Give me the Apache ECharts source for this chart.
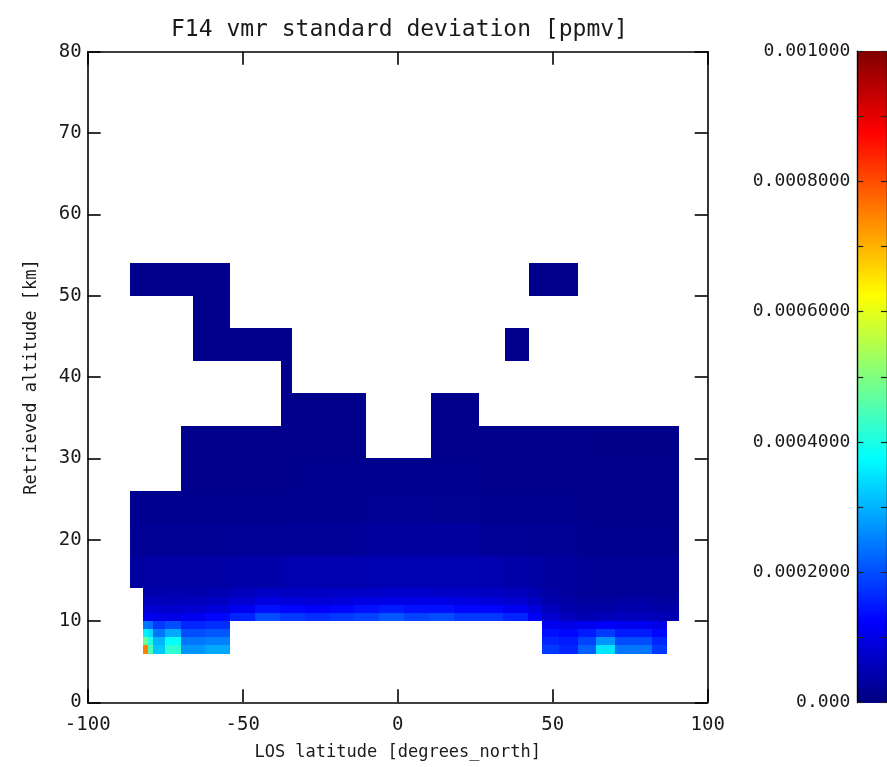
<!DOCTYPE html>
<html><head><meta charset="utf-8">
<script src="https://cdn.jsdelivr.net/npm/echarts@6.0.0/dist/echarts.min.js"></script>
<style>html,body{margin:0;padding:0;background:#fff}#c{width:887px;height:767px}</style>
</head><body><div id="c"></div>
<script>
// ---- data (values in ppmv) ----
const latEdges = [-86.2, -82.3, -70.0, -66.1, -54.0, -37.7, -34.0, -10.1, 10.6, 26.1, 34.6, 42.3, 46.7, 58.2, 86.8, 90.7];
const altEdges = [14, 18, 22, 26, 30, 34, 38, 42, 46, 50, 54];
const upperRow14 = [3.0e-5, 3.5e-5, 3.5e-5, 3.5e-5, 4.0e-5, 4.5e-5, 4.5e-5, 5.0e-5, 5.0e-5, 4.5e-5, 4.0e-5, 3.5e-5, 3.0e-5, 2.5e-5, 2.5e-5];
const upperRow18 = [2.0e-5, 2.0e-5, 2.0e-5, 2.0e-5, 2.5e-5, 2.5e-5, 2.5e-5, 3.0e-5, 3.0e-5, 2.5e-5, 2.5e-5, 2.0e-5, 2.0e-5, 1.5e-5, 1.5e-5];
const upperRow22 = [1.6e-5, 1.5e-5, 1.5e-5, 1.5e-5, 1.5e-5, 1.5e-5, 1.6e-5, 1.8e-5, 1.7e-5, 1.5e-5, 1.5e-5, 1.4e-5, 1.4e-5, 1.3e-5, 1.3e-5];
const upperRow26 = [null, null, 1.3e-5, 1.3e-5, 1.3e-5, 1.3e-5, 1.4e-5, 1.5e-5, 1.4e-5, 1.3e-5, 1.3e-5, 1.2e-5, 1.2e-5, 1.2e-5, 1.2e-5];
const upperRow30 = [null, null, 1.2e-5, 1.2e-5, 1.2e-5, 1.2e-5, 1.3e-5, null, 1.3e-5, 1.2e-5, 1.2e-5, 1.2e-5, 1.2e-5, 1.1e-5, 1.1e-5];
const upperRow34 = [null, null, null, null, null, 1.2e-5, 1.2e-5, null, 1.2e-5, null, null, null, null, null, null];
const upperRow38 = [null, null, null, null, null, 1.2e-5, null, null, null, null, null, null, null, null, null];
const upperRow42 = [null, null, null, 1.2e-5, 1.2e-5, 1.2e-5, null, null, null, null, 1.2e-5, null, null, null, null];
const upperRow46 = [null, null, null, 1.2e-5, null, null, null, null, null, null, null, null, null, null, null];
const upperRow50 = [1.2e-5, 1.2e-5, 1.2e-5, 1.2e-5, null, null, null, null, null, null, null, 1.2e-5, 1.2e-5, null, null];
const upperRows = [upperRow14, upperRow18, upperRow22, upperRow26, upperRow30, upperRow34, upperRow38, upperRow42, upperRow46, upperRow50];

const lowLatEdges = [-82.3, -80.5, -79, -75, -70, -62, -54, -46, -38, -30, -22, -14, -6, 2, 10, 18, 26, 34, 42, 46.7, 52, 58, 64, 70, 76, 82, 86.8, 90.7];
const lowAltEdges = [6, 7, 8, 9, 10, 11, 12, 13, 14];
const lowRow6  = [7.5e-4, 4.5e-4, 3.2e-4, 4.2e-4, 2.7e-4, 2.9e-4, null, null, null, null, null, null, null, null, null, null, null, null, null, 1.8e-4, 1.6e-4, 2.2e-4, 3.5e-4, 2.4e-4, 2.4e-4, 1.8e-4, null];
const lowRow7  = [4.8e-4, 4.0e-4, 3.0e-4, 3.8e-4, 2.4e-4, 2.5e-4, null, null, null, null, null, null, null, null, null, null, null, null, null, 1.6e-4, 1.5e-4, 1.9e-4, 2.7e-4, 2.0e-4, 2.0e-4, 1.6e-4, null];
const lowRow8  = [3.6e-4, 3.4e-4, 2.4e-4, 2.9e-4, 2.0e-4, 2.1e-4, null, null, null, null, null, null, null, null, null, null, null, null, null, 1.4e-4, 1.3e-4, 1.5e-4, 1.8e-4, 1.5e-4, 1.5e-4, 1.3e-4, null];
const lowRow9  = [2.4e-4, 2.3e-4, 1.8e-4, 2.0e-4, 1.6e-4, 1.7e-4, null, null, null, null, null, null, null, null, null, null, null, null, null, 1.1e-4, 1.0e-4, 1.1e-4, 1.2e-4, 1.1e-4, 1.1e-4, 1.0e-4, null];
const lowRow10 = [1.1e-4, 1.1e-4, 1.0e-4, 1.0e-4, 1.1e-4, 1.3e-4, 1.6e-4, 2.0e-4, 1.8e-4, 1.7e-4, 1.8e-4, 1.9e-4, 2.1e-4, 1.9e-4, 2.0e-4, 1.8e-4, 1.8e-4, 1.6e-4, 1.2e-4, 0.8e-4, 0.6e-4, 0.5e-4, 0.55e-4, 0.6e-4, 0.6e-4, 0.55e-4, 0.5e-4];
const lowRow11 = [0.8e-4, 0.8e-4, 0.8e-4, 0.75e-4, 0.8e-4, 0.9e-4, 1.1e-4, 1.4e-4, 1.3e-4, 1.2e-4, 1.3e-4, 1.4e-4, 1.5e-4, 1.4e-4, 1.4e-4, 1.3e-4, 1.3e-4, 1.1e-4, 0.9e-4, 0.6e-4, 0.45e-4, 0.4e-4, 0.4e-4, 0.45e-4, 0.45e-4, 0.4e-4, 0.4e-4];
const lowRow12 = [0.6e-4, 0.6e-4, 0.6e-4, 0.55e-4, 0.6e-4, 0.65e-4, 0.8e-4, 0.95e-4, 0.9e-4, 0.85e-4, 0.9e-4, 1.0e-4, 1.0e-4, 1.0e-4, 1.0e-4, 0.95e-4, 0.9e-4, 0.8e-4, 0.65e-4, 0.45e-4, 0.35e-4, 0.3e-4, 0.3e-4, 0.35e-4, 0.35e-4, 0.3e-4, 0.3e-4];
const lowRow13 = [0.45e-4, 0.45e-4, 0.45e-4, 0.45e-4, 0.45e-4, 0.5e-4, 0.6e-4, 0.7e-4, 0.65e-4, 0.65e-4, 0.7e-4, 0.7e-4, 0.75e-4, 0.75e-4, 0.7e-4, 0.7e-4, 0.65e-4, 0.6e-4, 0.5e-4, 0.35e-4, 0.3e-4, 0.25e-4, 0.25e-4, 0.25e-4, 0.25e-4, 0.25e-4, 0.25e-4];
const lowRows = [lowRow6, lowRow7, lowRow8, lowRow9, lowRow10, lowRow11, lowRow12, lowRow13];

const colorbarTicks = [0, 0.0002, 0.0004, 0.0006, 0.0008, 0.001];
const jetColors = ['#000080', '#0000ff', '#0080ff', '#00ffff', '#80ff80', '#ffff00', '#ff8000', '#ff0000', '#800000'];

// ---- build cells ----
const cells = [];
function addCells(lats, alts, rows) {
  rows.forEach((row, r) => {
    row.forEach((v, c) => {
      if (v !== null) cells.push([lats[c], lats[c + 1], alts[r], alts[r + 1], v]);
    });
  });
}
addCells(lowLatEdges, lowAltEdges, lowRows);
addCells(latEdges, altEdges, upperRows);

const FONT = 'DejaVu Sans Mono';
const TXT = '#1a1a1a';

const chart = echarts.init(document.getElementById('c'), null, {renderer: 'canvas'});

function snapRect(api) {
  const p0 = api.coord([api.value(0), api.value(2)]);
  const p1 = api.coord([api.value(1), api.value(3)]);
  const x0 = Math.round(Math.min(p0[0], p1[0])), x1 = Math.round(Math.max(p0[0], p1[0]));
  const y0 = Math.round(Math.min(p0[1], p1[1])), y1 = Math.round(Math.max(p0[1], p1[1]));
  return {x: x0, y: y0, width: x1 - x0, height: y1 - y0};
}

function renderCell(params, api) {
  return {type: 'rect', shape: snapRect(api), style: {fill: api.visual('color')}};
}

function renderBar(params, api) {
  const stops = jetColors.map((c, i) => ({offset: i / (jetColors.length - 1), color: c}));
  return {type: 'rect', shape: snapRect(api),
    style: {fill: new echarts.graphic.LinearGradient(0, 1, 0, 0, stops)}};
}

const axisLine = {show: true, onZero: false, lineStyle: {color: '#000', width: 1.6}};
const mainTick = {show: true, inside: true, length: 13, lineStyle: {color: '#000', width: 1.6}};
const cbLine = {show: true, onZero: false, lineStyle: {color: '#000', width: 1.4}};
const cbTick = {show: true, inside: true, length: 6, lineStyle: {color: '#222', width: 1.2}};
const cbMinor = {show: true, splitNumber: 2, length: 6, lineStyle: {color: '#222', width: 1.2}};

function cbLabel(v) {
  if (v === 0) return '0.000';
  if (Math.abs(v - 0.001) < 1e-12) return '0.001000';
  return v.toFixed(7);
}

chart.setOption({
  animation: false,
  backgroundColor: '#fff',
  title: {
    text: 'F14 vmr standard deviation [ppmv]',
    left: 171, top: 19, padding: 0,
    textStyle: {fontFamily: FONT, fontSize: 23, fontWeight: 'normal', color: TXT}
  },
  grid: [
    {left: 87.7, top: 51.7, width: 620, height: 650.6, containLabel: false},
    {left: 857.3, top: 51.2, width: 32, height: 651.3, containLabel: false}
  ],
  xAxis: [
    {type: 'value', gridIndex: 0, min: -100, max: 100, interval: 50, position: 'bottom', z: 10,
     axisLine, axisTick: mainTick, splitLine: {show: false},
     axisLabel: {fontFamily: FONT, fontSize: 19, color: TXT, margin: 13},
     name: 'LOS latitude [degrees_north]', nameLocation: 'middle', nameGap: 42,
     nameTextStyle: {fontFamily: FONT, fontSize: 17, color: TXT}},
    {type: 'value', gridIndex: 0, min: -100, max: 100, interval: 50, position: 'top', z: 10,
     axisLine, axisTick: mainTick, splitLine: {show: false}, axisLabel: {show: false}},
    {type: 'value', gridIndex: 1, min: 0, max: 1, show: false}
  ],
  yAxis: [
    {type: 'value', gridIndex: 0, min: 0, max: 80, interval: 10, position: 'left', z: 10,
     axisLine, axisTick: mainTick, splitLine: {show: false},
     axisLabel: {fontFamily: FONT, fontSize: 19, color: TXT, margin: 6},
     name: 'Retrieved altitude [km]', nameLocation: 'middle', nameGap: 48,
     nameTextStyle: {fontFamily: FONT, fontSize: 17, color: TXT}},
    {type: 'value', gridIndex: 0, min: 0, max: 80, interval: 10, position: 'right', z: 10,
     axisLine, axisTick: mainTick, splitLine: {show: false}, axisLabel: {show: false}},
    {type: 'value', gridIndex: 1, min: 0, max: 0.001, interval: 0.0002, position: 'left', z: 10,
     axisLine: cbLine, axisTick: cbTick, minorTick: cbMinor,
     splitLine: {show: false}, minorSplitLine: {show: false},
     axisLabel: {fontFamily: FONT, fontSize: 18, color: TXT, margin: 7, formatter: cbLabel, showMaxLabel: true, showMinLabel: true}},
    {type: 'value', gridIndex: 1, min: 0, max: 0.001, interval: 0.0002, position: 'right', z: 10,
     axisLine: cbLine, axisTick: cbTick, minorTick: cbMinor,
     splitLine: {show: false}, axisLabel: {show: false}}
  ],
  visualMap: {
    type: 'continuous', show: false, seriesIndex: 0, dimension: 4,
    min: 0, max: 0.001, inRange: {color: jetColors}
  },
  series: [
    {type: 'custom', name: 'F14 vmr standard deviation', xAxisIndex: 0, yAxisIndex: 0,
     dimensions: ['lat0', 'lat1', 'alt0', 'alt1', 'value'],
     encode: {x: [0, 1], y: [2, 3]},
     renderItem: renderCell, data: cells, clip: true, z: 1},
    {type: 'custom', name: 'colorbar', xAxisIndex: 2, yAxisIndex: 2,
     encode: {x: [0, 1], y: [2, 3]},
     renderItem: renderBar, data: [[0, 1, colorbarTicks[0], colorbarTicks[colorbarTicks.length - 1]]], z: 1}
  ]
});
</script></body></html>
